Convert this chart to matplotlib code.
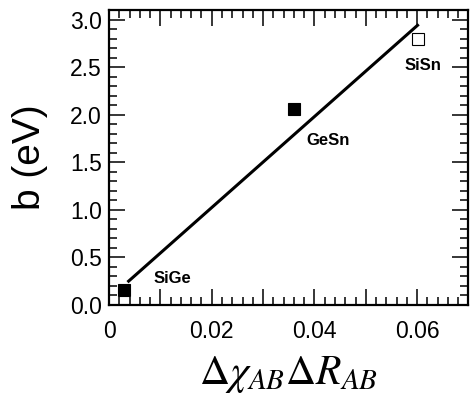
import matplotlib
matplotlib.use("Agg")
import matplotlib.pyplot as plt
from matplotlib.ticker import MultipleLocator, FuncFormatter

plt.rcParams['font.family'] = ['Liberation Sans', 'DejaVu Sans']
plt.rcParams['mathtext.fontset'] = 'stix'

# Data
names = ["SiGe", "GeSn", "SiSn"]
x_vals = [0.0029, 0.0361, 0.0601]
b_vals = [0.16, 2.06, 2.80]
filled = [True, True, False]
fit_x = [0.0036, 0.0603]
fit_y = [0.24, 2.95]
label_x = [0.0124, 0.0426, 0.0612]
label_y = [0.28, 1.73, 2.52]
x_ticks_labeled = [0, 0.02, 0.04, 0.06]
y_ticks = [0.0, 0.5, 1.0, 1.5, 2.0, 2.5, 3.0]

fig = plt.figure(figsize=(4.70, 3.97), dpi=100)
ax = fig.add_axes([109/470, 92/397, 359.5/470, 295/397])

ax.plot(fit_x, fit_y, color='black', lw=2.2, solid_capstyle='butt', zorder=2)
for x, y, f in zip(x_vals, b_vals, filled):
    ax.plot([x], [y], marker='s', ms=9.3, color='black',
            mfc='black' if f else 'white', mew=0.8, ls='none', zorder=3)
for n, x, y in zip(names, label_x, label_y):
    ax.text(x, y, n, fontsize=12, fontweight='bold', ha='center', va='center')

ax.set_xlim(0, 0.07)
ax.set_ylim(0, 3.1)
ax.xaxis.set_major_locator(MultipleLocator(0.01))
ax.xaxis.set_minor_locator(MultipleLocator(0.002))
ax.yaxis.set_major_locator(MultipleLocator(0.5))
ax.yaxis.set_minor_locator(MultipleLocator(0.1))

def xfmt(v, pos):
    for t in x_ticks_labeled:
        if abs(v - t) < 1e-9:
            return "0" if t == 0 else "%.2f" % t
    return ""

ax.xaxis.set_major_formatter(FuncFormatter(xfmt))
ax.yaxis.set_major_formatter(FuncFormatter(lambda v, p: "%.1f" % v))

ax.tick_params(which='both', direction='in', top=True, right=True, width=1.1, labelsize=16.5)
ax.tick_params(which='major', length=11.5)
ax.tick_params(which='minor', length=6)
ax.tick_params(axis='x', which='major', pad=11)
ax.tick_params(axis='y', which='major', pad=5)
for s in ax.spines.values():
    s.set_linewidth(1.6)

ax.set_ylabel("b (eV)", fontsize=28, labelpad=16)
ax.set_xlabel(r"$\Delta\chi_{AB}\Delta R_{AB}$", fontsize=30, labelpad=8)

fig.savefig("out.png", dpi=100)
